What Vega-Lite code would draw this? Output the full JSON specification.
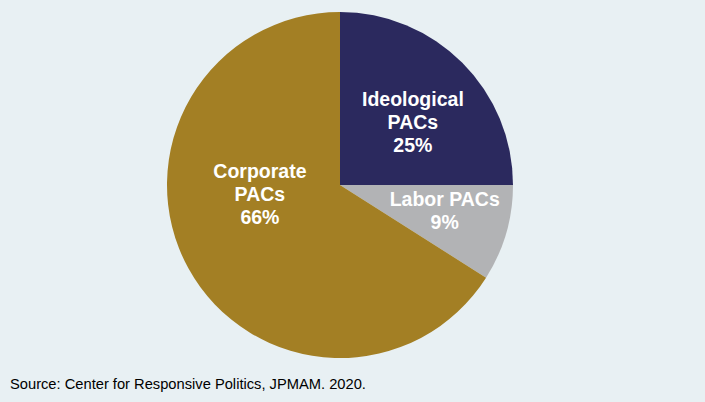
{
  "$schema": "https://vega.github.io/schema/vega-lite/v6.json",
  "width": 680,
  "height": 370,
  "autosize": {"type": "none"},
  "padding": {"left": 0, "top": 0, "right": 25, "bottom": 32},
  "background": "#e8f0f3",
  "view": {"stroke": null},
  "title": {
    "text": "Source: Center for Responsive Politics, JPMAM. 2020.",
    "orient": "bottom",
    "anchor": "start",
    "dx": 10,
    "offset": 7,
    "font": "Liberation Sans",
    "fontSize": 14.7,
    "fontWeight": "normal",
    "color": "#000000"
  },
  "data": {
    "values": [
      {"category": "Ideological PACs", "share": 25, "rank": 1, "label": "Ideological\nPACs\n25%"},
      {"category": "Labor PACs", "share": 9, "rank": 2, "label": "Labor PACs\n9%"},
      {"category": "Corporate PACs", "share": 66, "rank": 3, "label": "Corporate\nPACs\n66%"}
    ]
  },
  "encoding": {
    "theta": {"field": "share", "type": "quantitative", "stack": true},
    "order": {"field": "rank", "type": "quantitative", "sort": "ascending"}
  },
  "layer": [
    {
      "mark": {"type": "arc", "outerRadius": 173, "stroke": null},
      "encoding": {
        "color": {
          "field": "category",
          "type": "nominal",
          "scale": {
            "domain": ["Ideological PACs", "Labor PACs", "Corporate PACs"],
            "range": ["#2b295e", "#b2b3b5", "#a37f24"]
          },
          "legend": null
        }
      }
    },
    {
      "mark": {"type": "text", "radius": 96, "dx": 5, "dy": -17, "font": "Liberation Sans", "fontSize": 19.5, "fontWeight": "bold", "fill": "#ffffff", "lineBreak": "\n", "lineHeight": 23, "align": "center", "baseline": "middle"},
      "encoding": {
        "text": {"condition": {"test": "datum.category === 'Ideological PACs'", "field": "label"}, "value": ""}
      }
    },
    {
      "mark": {"type": "text", "radius": 108, "dx": 1, "dy": -15, "font": "Liberation Sans", "fontSize": 19.5, "fontWeight": "bold", "fill": "#ffffff", "lineBreak": "\n", "lineHeight": 23, "align": "center", "baseline": "middle"},
      "encoding": {
        "text": {"condition": {"test": "datum.category === 'Labor PACs'", "field": "label"}, "value": ""}
      }
    },
    {
      "mark": {"type": "text", "radius": 80, "dx": -10, "dy": -52, "font": "Liberation Sans", "fontSize": 19.5, "fontWeight": "bold", "fill": "#ffffff", "lineBreak": "\n", "lineHeight": 23, "align": "center", "baseline": "middle"},
      "encoding": {
        "text": {"condition": {"test": "datum.category === 'Corporate PACs'", "field": "label"}, "value": ""}
      }
    }
  ]
}
